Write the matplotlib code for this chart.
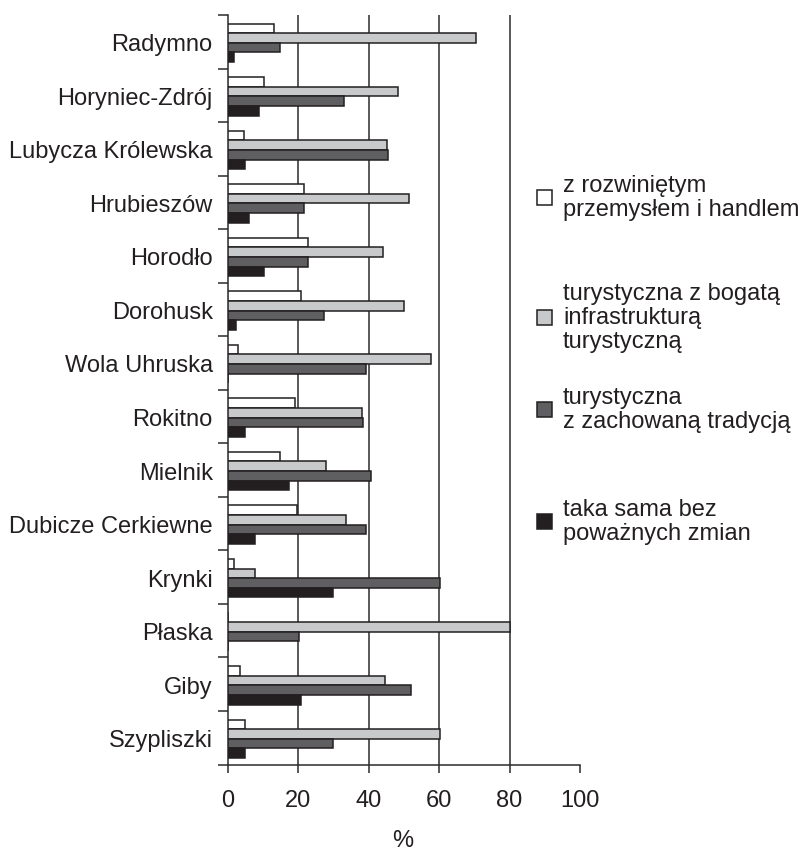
import matplotlib
matplotlib.use("Agg")
import matplotlib.pyplot as plt
import numpy as np
from matplotlib.patches import Rectangle

plt.rcParams['font.family'] = ['Liberation Sans', 'DejaVu Sans']

categories = ["Radymno", "Horyniec-Zdrój", "Lubycza Królewska", "Hrubieszów",
              "Horodło", "Dorohusk", "Wola Uhruska", "Rokitno", "Mielnik",
              "Dubicze Cerkiewne", "Krynki", "Płaska", "Giby", "Szypliszki"]

series_labels = ["z rozwiniętym\nprzemysłem i handlem",
                 "turystyczna z bogatą\ninfrastrukturą\nturystyczną",
                 "turystyczna\nz zachowaną tradycją",
                 "taka sama bez\npoważnych zmian"]

przemysl = [13.0, 10.1, 4.6, 21.5, 22.6, 20.8, 2.9, 19.0, 14.8, 19.6, 1.6, 0.0, 3.4, 4.7]
turystyczna_infra = [70.5, 48.3, 45.3, 51.4, 44.1, 50.1, 57.8, 38.2, 27.9, 33.4, 7.7, 80.0, 44.7, 60.2]
turystyczna_trad = [14.8, 32.9, 45.5, 21.5, 22.6, 27.4, 39.3, 38.3, 40.6, 39.3, 60.2, 20.2, 51.9, 29.7]
bez_zmian = [1.7, 8.9, 4.7, 6.0, 10.1, 2.3, 0.0, 4.7, 17.3, 7.8, 29.9, 0.0, 20.8, 4.7]

x_ticks = [0, 20, 40, 60, 80, 100]
x_label = "%"

series = [przemysl, turystyczna_infra, turystyczna_trad, bez_zmian]
colors = ["#ffffff", "#c8c9cb", "#5f5f61", "#231f20"]
edge = "#231f20"
FS = 17

W, H = 804, 853
fig = plt.figure(figsize=(W / 100, H / 100), dpi=100)
ax = fig.add_axes([228 / W, 1 - 765.5 / H, (580 - 228) / W, (765.5 - 16) / H])

n = len(categories)
y = np.arange(n)
bh = 0.18
offsets = [-0.27, -0.09, 0.09, 0.27]
for vals, col, off in zip(series, colors, offsets):
    ax.barh(y + off + 0.02, vals, height=bh, color=col, edgecolor=edge, linewidth=1.1, zorder=3)

ax.set_xlim(0, 100)
ax.set_ylim(n - 0.5, -0.5)

for gx in x_ticks[1:-1]:
    ax.axvline(gx, color="#2b2b2b", linewidth=1.1, zorder=1)

ax.spines['top'].set_visible(False)
ax.spines['right'].set_visible(False)
for s in ['left', 'bottom']:
    ax.spines[s].set_color("#2b2b2b")
    ax.spines[s].set_linewidth(1.1)

ax.set_xticks(x_ticks)
ax.set_xticklabels([str(t) for t in x_ticks], fontsize=FS, color="#231f20")
ax.tick_params(axis='x', direction='out', length=5.8, width=1.1, color="#2b2b2b", pad=12)

ax.set_yticks(np.arange(-0.5, n, 1.0))
ax.set_yticklabels([])
ax.tick_params(axis='y', which='major', direction='out', length=7.2, width=1.1, color="#2b2b2b")
ax.set_yticks(y, minor=True)
ax.set_yticklabels(categories, minor=True, fontsize=FS, color="#231f20")
ax.tick_params(axis='y', which='minor', length=0, pad=11)

ax.set_xlabel(x_label, fontsize=FS, color="#231f20")
ax.xaxis.label.set_va('bottom')
ax.xaxis.set_label_coords(403 / W, 1.0 / H, transform=fig.transFigure)

# legend (manual)
centers = [198, 318, 410, 522]
for lab, col, cy in zip(series_labels, colors, centers):
    sq = 15
    fig.patches.append(Rectangle((537 / W, 1 - (cy + sq / 2) / H), sq / W, sq / H,
                                 transform=fig.transFigure, facecolor=col, edgecolor=edge,
                                 linewidth=1.1))
    fig.text(563 / W, 1 - cy / H, lab, fontsize=FS, color="#231f20", va='center', ha='left',
             linespacing=1.12)

fig.savefig("out.png", dpi=100)
